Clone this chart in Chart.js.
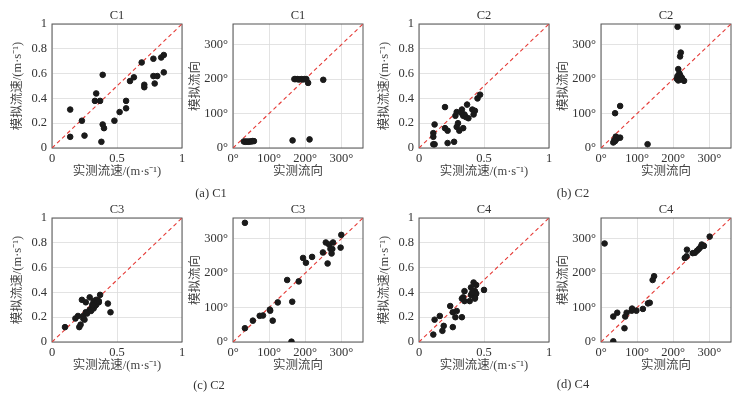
<!DOCTYPE html>
<html>
<head>
<meta charset="utf-8">
<script src="https://cdn.jsdelivr.net/npm/chart.js@4.4.1/dist/chart.umd.min.js"></script>
<style>
  body { margin: 0; background: #fff; }
  #page { position: relative; width: 743px; height: 400px; overflow: hidden;
          font-family: 'Liberation Serif', 'Noto Sans CJK SC', serif; color: #333; }
  .box { position: absolute; }
  .txt { position: absolute; font-size: 12.5px; transform: translate(-50%, -50%); white-space: nowrap; }
</style>
</head>
<body>
<div id="page"></div>
<script>
// tick labels
const speedTicks = [0, 0.5, 1];
const speedYTicks = [0, 0.2, 0.4, 0.6, 0.8, 1];
const dirTicks = [0, 100, 200, 300];

// C1
const c1SpeedObs = [0.14, 0.14, 0.23, 0.25, 0.33, 0.34, 0.37, 0.39, 0.39, 0.40, 0.38, 0.48, 0.52, 0.57, 0.57, 0.60, 0.63, 0.69, 0.71, 0.71, 0.78, 0.78, 0.81, 0.79, 0.84, 0.86, 0.86];
const c1SpeedSim = [0.31, 0.09, 0.22, 0.10, 0.38, 0.44, 0.38, 0.59, 0.19, 0.16, 0.05, 0.22, 0.29, 0.38, 0.32, 0.54, 0.57, 0.69, 0.51, 0.49, 0.72, 0.58, 0.58, 0.52, 0.73, 0.75, 0.61];
const c1DirObs = [30, 34, 38, 42, 46, 50, 54, 58, 165, 212, 170, 174, 179, 183, 189, 193, 198, 203, 208, 250];
const c1DirSim = [19, 18, 19, 18, 19, 19, 20, 20, 22, 25, 200, 200, 200, 199, 200, 199, 200, 200, 189, 198];

// C2
const c2SpeedObs = [0.11, 0.11, 0.12, 0.11, 0.12, 0.20, 0.20, 0.22, 0.22, 0.27, 0.28, 0.29, 0.30, 0.29, 0.31, 0.33, 0.33, 0.34, 0.35, 0.36, 0.37, 0.38, 0.34, 0.41, 0.43, 0.42, 0.45, 0.47];
const c2SpeedSim = [0.09, 0.12, 0.19, 0.03, 0.03, 0.33, 0.16, 0.14, 0.04, 0.05, 0.26, 0.29, 0.20, 0.17, 0.14, 0.31, 0.28, 0.26, 0.27, 0.25, 0.35, 0.24, 0.16, 0.31, 0.30, 0.27, 0.40, 0.43];
const c2DirObs = [212, 221, 219, 214, 217, 212, 210, 214, 219, 223, 225, 230, 220, 39, 53, 34, 39, 43, 46, 53, 41, 37, 129];
const c2DirSim = [352, 277, 266, 229, 217, 209, 201, 196, 211, 205, 201, 195, 199, 101, 122, 16, 20, 26, 30, 30, 33, 23, 11];

// C3
const c3SpeedObs = [0.10, 0.18, 0.20, 0.21, 0.22, 0.23, 0.24, 0.25, 0.24, 0.26, 0.26, 0.27, 0.29, 0.29, 0.30, 0.31, 0.32, 0.32, 0.33, 0.34, 0.34, 0.35, 0.36, 0.37, 0.36, 0.43, 0.45, 0.31];
const c3SpeedSim = [0.12, 0.19, 0.21, 0.12, 0.14, 0.34, 0.19, 0.18, 0.21, 0.24, 0.32, 0.23, 0.26, 0.36, 0.25, 0.28, 0.27, 0.33, 0.29, 0.34, 0.30, 0.32, 0.32, 0.38, 0.33, 0.31, 0.24, 0.30];
const c3DirObs = [33, 33, 55, 74, 83, 102, 103, 110, 124, 150, 164, 162, 182, 194, 202, 219, 249, 257, 262, 266, 270, 275, 273, 277, 298, 300];
const c3DirSim = [346, 40, 62, 76, 77, 94, 91, 62, 115, 180, 117, 1, 176, 244, 230, 247, 260, 289, 228, 283, 270, 270, 257, 289, 274, 311];

// C4
const c4SpeedObs = [0.11, 0.12, 0.16, 0.18, 0.19, 0.24, 0.26, 0.26, 0.28, 0.29, 0.33, 0.34, 0.35, 0.35, 0.33, 0.39, 0.40, 0.40, 0.42, 0.43, 0.43, 0.44, 0.44, 0.43, 0.50, 0.41];
const c4SpeedSim = [0.06, 0.18, 0.21, 0.09, 0.13, 0.29, 0.12, 0.24, 0.20, 0.25, 0.20, 0.36, 0.33, 0.41, 0.35, 0.33, 0.44, 0.38, 0.48, 0.41, 0.36, 0.39, 0.46, 0.35, 0.42, 0.40];
const c4DirObs = [10, 34, 34, 45, 65, 67, 71, 85, 86, 98, 116, 130, 135, 143, 147, 232, 237, 238, 254, 260, 266, 271, 276, 279, 285, 301];
const c4DirSim = [286, 2, 74, 85, 40, 74, 85, 91, 97, 91, 96, 112, 114, 180, 191, 244, 249, 268, 258, 259, 265, 270, 276, 283, 279, 306];

Chart.defaults.font.family = "'Liberation Serif', 'Noto Sans CJK SC', serif";
Chart.defaults.font.size = 12.5;
Chart.defaults.color = '#333';

const page = document.getElementById('page');

// plot area layout (px) for each panel
const PW = 130, PH = 124, PAD_T = 10, PAD_R = 10, XH = 31;
const panels = [
  { title: 'C1', kind: 'speed', obs: c1SpeedObs, sim: c1SpeedSim, left: 52, top: 24 },
  { title: 'C1', kind: 'dir', obs: c1DirObs, sim: c1DirSim, left: 233, top: 24 },
  { title: 'C2', kind: 'speed', obs: c2SpeedObs, sim: c2SpeedSim, left: 419, top: 24 },
  { title: 'C2', kind: 'dir', obs: c2DirObs, sim: c2DirSim, left: 601, top: 24 },
  { title: 'C3', kind: 'speed', obs: c3SpeedObs, sim: c3SpeedSim, left: 52, top: 218 },
  { title: 'C3', kind: 'dir', obs: c3DirObs, sim: c3DirSim, left: 233, top: 218 },
  { title: 'C4', kind: 'speed', obs: c4SpeedObs, sim: c4SpeedSim, left: 419, top: 218 },
  { title: 'C4', kind: 'dir', obs: c4DirObs, sim: c4DirSim, left: 601, top: 218 },
];
const captions = [
  { text: '(a) C1', x: 211, y: 193 },
  { text: '(b) C2', x: 573, y: 193 },
  { text: '(c) C2', x: 209, y: 385 },
  { text: '(d) C4', x: 573, y: 384 },
];

// box around the plot area
const framePlugin = {
  id: 'frame',
  beforeDatasetsDraw(chart) {
    const a = chart.chartArea, ctx = chart.ctx;
    ctx.save();
    ctx.strokeStyle = '#555';
    ctx.lineWidth = 1;
    ctx.strokeRect(a.left, a.top, a.right - a.left, a.bottom - a.top);
    ctx.restore();
  }
};

function addText(text, x, y) {
  const d = document.createElement('div');
  d.className = 'txt';
  d.style.left = x + 'px';
  d.style.top = y + 'px';
  d.textContent = text;
  page.appendChild(d);
}

panels.forEach((p) => {
  const isSpeed = p.kind === 'speed';
  const yW = isSpeed ? 42 : 45;
  const max = isSpeed ? 1 : 360;
  const xTickVals = isSpeed ? speedTicks : dirTicks;
  const yTickVals = isSpeed ? speedYTicks : dirTicks;
  const fmt = (v) => isSpeed ? String(+v.toFixed(1)) : v + '°';

  const box = document.createElement('div');
  box.className = 'box';
  box.style.left = (p.left - yW) + 'px';
  box.style.top = (p.top - PAD_T) + 'px';
  box.style.width = (yW + PW + PAD_R) + 'px';
  box.style.height = (PAD_T + PH + XH) + 'px';
  const cv = document.createElement('canvas');
  box.appendChild(cv);
  page.appendChild(box);

  addText(p.title, p.left + PW / 2, p.top - 9);

  const points = p.obs.map((x, i) => ({ x: x, y: p.sim[i] }));

  new Chart(cv, {
    type: 'scatter',
    data: {
      datasets: [
        {
          data: points,
          backgroundColor: '#1a1a1a',
          borderColor: '#1a1a1a',
          pointRadius: 2.8,
          pointHoverRadius: 2.8,
        },
        {
          type: 'line',
          data: [{ x: 0, y: 0 }, { x: max, y: max }],
          borderColor: '#e53935',
          borderWidth: 1.1,
          borderDash: [4, 3],
          pointRadius: 0,
          fill: false,
        },
      ],
    },
    options: {
      responsive: true,
      maintainAspectRatio: false,
      animation: false,
      layout: { padding: { top: PAD_T, right: PAD_R, left: 0, bottom: 0 } },
      plugins: { legend: { display: false }, tooltip: { enabled: false } },
      scales: {
        x: {
          type: 'linear',
          min: 0,
          max: max,
          afterBuildTicks: (s) => { s.ticks = xTickVals.map((v) => ({ value: v })); },
          ticks: { padding: 3, maxRotation: 0, callback: fmt },
          grid: { color: '#dcdcdc', lineWidth: 0.8, drawTicks: false },
          border: { display: false },
          title: {
            display: true,
            text: isSpeed ? '实测流速/(m·s⁻¹)' : '实测流向',
            font: { size: 12.5 },
            padding: { top: 0, bottom: 0 },
            color: '#444',
          },
          afterFit: (s) => { s.height = XH; s.paddingLeft = 0; s.paddingRight = 0; },
        },
        y: {
          type: 'linear',
          min: 0,
          max: max,
          afterBuildTicks: (s) => { s.ticks = yTickVals.map((v) => ({ value: v })); },
          ticks: { padding: 5, callback: fmt },
          grid: { color: '#dcdcdc', lineWidth: 0.8, drawTicks: false },
          border: { display: false },
          title: {
            display: true,
            text: isSpeed ? '模拟流速/(m·s⁻¹)' : '模拟流向',
            font: { size: 12.5 },
            padding: { top: 0, bottom: 0 },
            color: '#444',
          },
          afterFit: (s) => { s.width = yW; s.paddingTop = 0; s.paddingBottom = 0; },
        },
      },
    },
    plugins: [framePlugin],
  });
});

captions.forEach((c) => addText(c.text, c.x, c.y));
</script>
</body>
</html>
